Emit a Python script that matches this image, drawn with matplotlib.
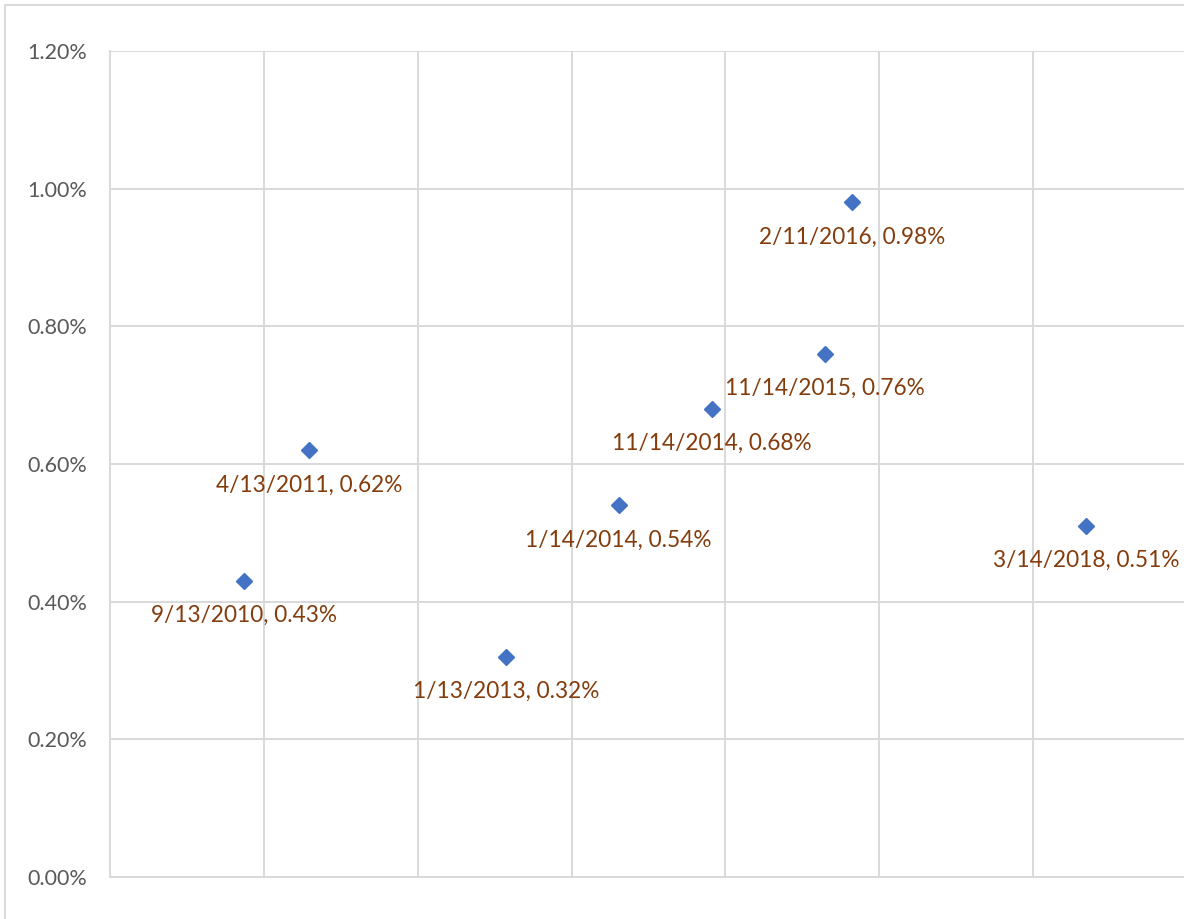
#! /usr/bin/env python3
"""
Scatter of percentage values against dates, Excel style
"""

import matplotlib.pyplot as plt
import matplotlib.patches as mpatches
import matplotlib.ticker as mticker
import pandas as pd

DATES = [
    "9/13/2010", "4/13/2011", "1/13/2013", "1/14/2014",
    "11/14/2014", "11/14/2015", "2/11/2016", "3/14/2018"
]
VALUES = [0.43, 0.62, 0.32, 0.54, 0.68, 0.76, 0.98, 0.51]
Y_TICKS = [0.0, 0.2, 0.4, 0.6, 0.8, 1.0, 1.2]
X_GRID = [40000, 40500, 41000, 41500, 42000, 42500, 43000, 43500]


def to_serial(dates):
    """Convert m/d/yyyy strings to Excel date serial numbers."""
    stamps = pd.to_datetime(dates, format="%m/%d/%Y")
    return [(s - pd.Timestamp("1899-12-30")).days for s in stamps]


def main():
    plt.rcParams["font.family"] = ["Lato", "DejaVu Sans"]
    grid_colour = "#d9d9d9"
    fig = plt.figure(figsize=(11.84, 9.19), dpi=100)
    fig.patches.append(
        mpatches.Rectangle(
            (5 / 1184, -0.1),
            1.2,
            1.1 - 5 / 919,
            transform=fig.transFigure,
            fill=False,
            edgecolor=grid_colour,
            linewidth=1.4
        )
    )
    ax = fig.add_axes([110 / 1184, 42 / 919, 1077 / 1184, 826 / 919])
    xs = to_serial(DATES)
    ax.plot(
        xs,
        VALUES,
        linestyle="none",
        marker="D",
        markersize=8,
        color="#4472c4",
        zorder=3
    )
    for date, x, y in zip(DATES, xs, VALUES):
        ax.annotate(
            f"{date}, {y:.2f}%",
            xy=(x, y),
            xytext=(0, -25),
            textcoords="offset points",
            ha="center",
            va="center",
            fontsize=16.3,
            color="#843c0c"
        )
    ax.set_xlim(X_GRID[0], X_GRID[-1])
    ax.set_ylim(Y_TICKS[0], Y_TICKS[-1])
    ax.set_xticks(X_GRID)
    ax.set_xticklabels([])
    ax.set_yticks(Y_TICKS)
    ax.yaxis.set_major_formatter(mticker.FuncFormatter(lambda v, p: f"{v:.2f}%"))
    ax.tick_params(length=0, pad=16.5, labelsize=15.5, labelcolor="#595959")
    ax.grid(True, color=grid_colour, linewidth=1.4)
    ax.set_axisbelow(True)
    for side in ["top", "right"]:
        ax.spines[side].set_visible(False)
    for side in ["left", "bottom"]:
        ax.spines[side].set_color(grid_colour)
        ax.spines[side].set_linewidth(1.4)
    fig.savefig("out.png", dpi=100)


if __name__ == "__main__":
    main()
